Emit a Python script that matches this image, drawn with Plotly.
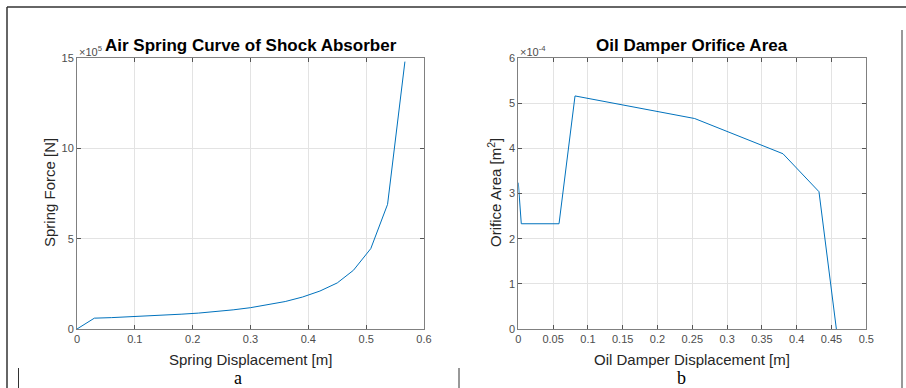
import plotly.graph_objects as go

# Left chart: Air spring curve (force in units of 1e5 N)
spring_disp = [0, 0.03, 0.06, 0.09, 0.12, 0.15, 0.18, 0.21, 0.24, 0.27, 0.30, 0.33, 0.36, 0.39, 0.42, 0.45, 0.478, 0.508, 0.537, 0.567]
spring_force_e5 = [0, 0.60, 0.63, 0.67, 0.71, 0.76, 0.82, 0.88, 0.96, 1.06, 1.18, 1.33, 1.52, 1.77, 2.10, 2.55, 3.25, 4.45, 6.90, 14.8]

# Right chart: Oil damper orifice area (area in units of 1e-4 m^2)
damper_disp = [0, 0.0043, 0.0585, 0.0815, 0.2534, 0.3803, 0.432, 0.457]
orifice_area_em4 = [3.24, 2.33, 2.33, 5.16, 4.66, 3.88, 3.04, 0.0]

W, H = 906, 388
def px(x): return x / W
def py(y): return (H - y) / H

LINE = "#0072BD"
AX = "#4d4d4d"
FONT = "Liberation Sans, Arial, sans-serif"

fig = go.Figure()
fig.add_trace(go.Scatter(x=spring_disp, y=spring_force_e5, mode="lines",
                         line=dict(color=LINE, width=1), xaxis="x", yaxis="y", showlegend=False))
fig.add_trace(go.Scatter(x=damper_disp, y=orifice_area_em4, mode="lines",
                         line=dict(color=LINE, width=1), xaxis="x2", yaxis="y2", showlegend=False))

ydom = [py(329), py(58)]
common = dict(showline=True, linecolor="#808080", linewidth=1, mirror="allticks",
              ticks="inside", ticklen=4, tickcolor="#555555",
              showgrid=True, gridcolor="#e3e3e3", gridwidth=1, zeroline=False,
              tickfont=dict(family=FONT, size=11, color=AX), automargin=False)

fig.update_layout(
    width=W, height=H, margin=dict(l=0, r=0, t=0, b=0),
    paper_bgcolor="white", plot_bgcolor="white",
    xaxis=dict(domain=[px(77), px(424)], range=[0, 0.6], dtick=0.1, anchor="y", **common),
    yaxis=dict(domain=ydom, range=[0, 15], dtick=5, anchor="x", **common),
    xaxis2=dict(domain=[px(518.3), px(866.3)], range=[0, 0.5], dtick=0.05, anchor="y2", **common),
    yaxis2=dict(domain=ydom, range=[0, 6], dtick=1, anchor="x2", **common),
)

ann = []
def text(x, y, s, size, color="#262626", bold=False, xanchor="center", angle=0, family=FONT):
    ann.append(dict(x=px(x), y=py(y), xref="paper", yref="paper", text=(f"<b>{s}</b>" if bold else s),
                    showarrow=False, xanchor=xanchor, yanchor="middle", textangle=angle,
                    font=dict(family=family, size=size, color=color)))

text(250.5, 45, "Air Spring Curve of Shock Absorber", 17, color="black", bold=True)
text(692, 45, "Oil Damper Orifice Area", 17, color="black", bold=True)
text(250.5, 359, "Spring Displacement [m]", 15)
text(692, 359, "Oil Damper Displacement [m]", 15)
text(49, 193, "Spring Force [N]", 15, angle=-90)
text(494, 193, "Orifice Area [m<sup>2</sup>]", 15, angle=-90)
text(77, 51, "×10<sup>5</sup>", 11, color=AX, xanchor="left")
text(518, 51, "×10<sup>-4</sup>", 11, color=AX, xanchor="left")
text(238, 378, "a", 18, color="black", family="Liberation Serif, Times New Roman, serif")
text(681, 378, "b", 18, color="black", family="Liberation Serif, Times New Roman, serif")
fig.update_layout(annotations=ann)

shapes = [
    dict(type="line", xref="paper", yref="paper", x0=px(7), x1=1, y0=py(7), y1=py(7), line=dict(color="#333333", width=1.5)),
    dict(type="line", xref="paper", yref="paper", x0=px(7), x1=px(7), y0=py(7), y1=0, line=dict(color="#333333", width=1.5)),
    dict(type="line", xref="paper", yref="paper", x0=px(902), x1=px(902), y0=py(30), y1=0, line=dict(color="#333333", width=1)),
    dict(type="line", xref="paper", yref="paper", x0=px(18.5), x1=px(18.5), y0=py(368), y1=0, line=dict(color="#333333", width=1)),
    dict(type="line", xref="paper", yref="paper", x0=px(459), x1=px(459), y0=py(368), y1=0, line=dict(color="#333333", width=1)),
]
fig.update_layout(shapes=shapes)

fig.write_html("out.html", config={"displayModeBar": False},
               post_script="document.body.style.margin='0';document.body.style.overflow='hidden';")
